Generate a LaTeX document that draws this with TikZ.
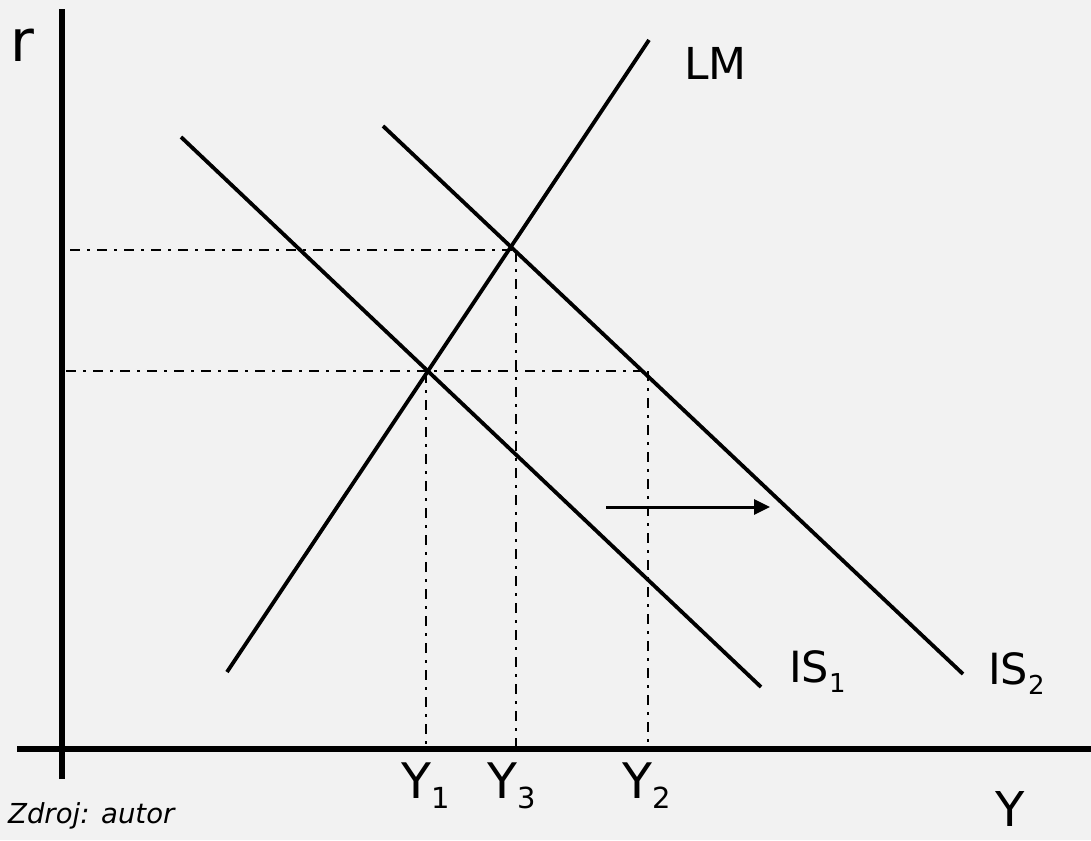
\documentclass[tikz,border=0pt]{standalone}
\usepackage{fontspec}
\setmainfont{DejaVu Sans}
\usetikzlibrary{arrows.meta}
\definecolor{bgcol}{HTML}{F2F2F2}
\newcommand\lsub[3]{#1\raisebox{-10pt}{\fontsize{#3}{#3}\selectfont #2}}
\begin{document}
\begin{tikzpicture}[x=1pt,y=-1pt,
  axis/.style={line width=5.5pt},
  curve/.style={line width=3.8pt},
  guide/.style={line width=2.4pt, dash pattern=on 10pt off 7pt on 3pt off 7pt},
  shift arrow/.style={line width=3pt, -{Triangle[length=16pt,width=15pt]}},
  lbl/.style={inner sep=0pt, anchor=base west}]
\fill[bgcol] (0,0) rectangle (1091,840);
\useasboundingbox (0,0) rectangle (1091,840);
% axes
\coordinate (ytop) at (62,9);
\coordinate (ybot) at (62,779);
\coordinate (xl) at (17,749);
\coordinate (xr) at (1091,749);
\draw[axis] (ybot) -- (ytop);
\draw[axis] (xl) -- (xr);
% curves
\coordinate (lmA) at (227,672);
\coordinate (lmB) at (649,40);
\coordinate (isaA) at (181,137);
\coordinate (isaB) at (761,687);
\coordinate (isbA) at (383,126);
\coordinate (isbB) at (963,674);
\draw[curve] (lmA) -- (lmB);
\draw[curve] (isaA) -- (isaB);
\draw[curve] (isbA) -- (isbB);
% guides
\coordinate (e2) at (513,250);
\coordinate (h1) at (66,371);
\coordinate (h2) at (70,250);
\coordinate (p2) at (648,371);
\coordinate (v1) at (426,749);
\coordinate (v1t) at (426,373);
\coordinate (v3) at (516,749);
\coordinate (v3t) at (516,252);
\coordinate (v2) at (648,749);
\draw[guide] (h2) -- (e2);
\draw[guide] (h1) -- (p2);
\draw[guide] (v1t) -- (v1);
\draw[guide] (v3t) -- (v3);
\draw[guide] (p2) -- (v2);
% shift arrow
\coordinate (arA) at (606,507);
\coordinate (arB) at (770,507);
\draw[shift arrow] (arA) -- (arB);
% labels
\node[lbl, font=\fontsize{58}{60}\selectfont] (r) at (10,62) {r};
\node[lbl, font=\fontsize{48}{52}\selectfont] (Y) at (995,826) {Y};
\node[lbl, font=\fontsize{44}{48}\selectfont] (LM) at (684,80) {LM};
\node[lbl, font=\fontsize{43}{46}\selectfont] (IS1) at (789,682) {\lsub{IS}{1}{26}};
\node[lbl, font=\fontsize{43}{46}\selectfont] (IS2) at (988,684) {\lsub{IS}{2}{26}};
\node[lbl, font=\fontsize{49}{52}\selectfont] (Y1) at (401,798) {\lsub{Y}{1}{29}};
\node[lbl, font=\fontsize{49}{52}\selectfont] (Y3) at (487,798) {\lsub{Y}{3}{29}};
\node[lbl, font=\fontsize{49}{52}\selectfont] (Y2) at (622,798) {\lsub{Y}{2}{29}};
\node[lbl, font=\itshape\fontsize{27.5}{30}\selectfont] (src) at (8,823) {Zdroj: autor};
\end{tikzpicture}
\end{document}
